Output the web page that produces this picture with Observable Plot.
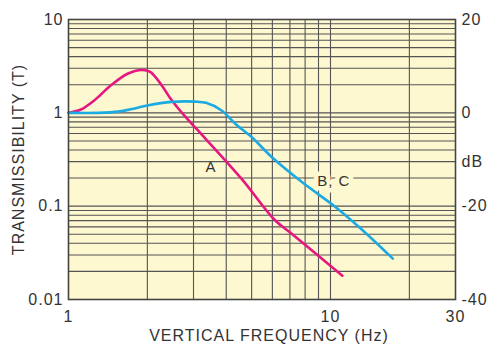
<!DOCTYPE html>
<html><head><meta charset="utf-8">
<script src="https://cdn.jsdelivr.net/npm/d3@7"></script>
<script src="https://cdn.jsdelivr.net/npm/@observablehq/plot@0.6"></script>
<style>
body{margin:0;background:#fff;}
#chart svg text{letter-spacing:1px;}
</style></head><body><div id="chart"></div>
<script>
// Curve A (magenta)
const freqA  = [1, 1.11, 1.25, 1.45, 1.68, 1.9, 2.05, 2.26, 2.47, 2.78, 3.1, 4.58, 6.1, 7.15, 11.1];
const transA = [1, 1.08, 1.35, 1.96, 2.62, 2.88, 2.75, 2.0, 1.38, 0.92, 0.66, 0.196, 0.072, 0.05, 0.018];
// Curve B, C (blue)
const freqBC  = [1, 1.3, 1.55, 1.75, 2.0, 2.47, 3.04, 3.35, 3.84, 4.32, 5.0, 5.98, 7.8, 10.5, 13.1, 17.3];
const transBC = [1, 1.0, 1.03, 1.1, 1.2, 1.31, 1.32, 1.28, 1.06, 0.77, 0.55, 0.334, 0.18, 0.097, 0.057, 0.0274];

const xTicks = [1, 10, 30];
const yTicks = [0.01, 0.1, 1, 10];
const yTickLabels = ["0.01", "0.1", "1", "10"];
const dbTickLabels = ["-40", "-20", "0", "20"];
const xGrid = [2, 3, 4, 5, 6, 7, 8, 9, 10, 20];
const yGrid = [0.02, 0.03, 0.04, 0.05, 0.06, 0.07, 0.08, 0.09, 0.1,
               0.2, 0.3, 0.4, 0.5, 0.6, 0.7, 0.8, 0.9, 1,
               2, 3, 4, 5, 6, 7, 8, 9];

const A = freqA.map((f, i) => ({f, t: transA[i]}));
const BC = freqBC.map((f, i) => ({f, t: transBC[i]}));

const cream = "#fdf8d0";
const ink = "#333";

const plot = Plot.plot({
  width: 490, height: 345,
  marginLeft: 68, marginRight: 35, marginTop: 19, marginBottom: 46,
  style: {fontFamily: "'Liberation Sans', Arial, sans-serif", fontSize: "16px", color: ink, background: "white"},
  x: {type: "log", domain: [1, 30]},
  y: {type: "log", domain: [0.01, 10]},
  marks: [
    Plot.frame({fill: cream, stroke: null}),
    Plot.ruleX(xGrid, {stroke: "#555", strokeWidth: 1.1}),
    Plot.ruleY(yGrid, {stroke: "#555", strokeWidth: 1.1}),
    Plot.line(A, {x: "f", y: "t", stroke: "#e6177f", strokeWidth: 2.6, curve: "catmull-rom"}),
    Plot.line(BC, {x: "f", y: "t", stroke: "#1caae2", strokeWidth: 2.6, curve: "catmull-rom"}),
    Plot.frame({stroke: "#444", strokeWidth: 1.6}),
    Plot.axisX({ticks: xTicks, tickSize: 0, tickPadding: 11, tickFormat: d => String(d), label: null, fontSize: 16}),
    Plot.axisY({ticks: yTicks, tickSize: 0, tickPadding: 5, tickFormat: d => yTickLabels[yTicks.indexOf(d)], label: null, fontSize: 16}),
    Plot.axisY({anchor: "right", ticks: yTicks, tickSize: 0, tickPadding: 6, tickFormat: d => dbTickLabels[yTicks.indexOf(d)], label: null, fontSize: 16}),
    Plot.text(["dB"], {frameAnchor: "right", y: () => 0.3, dx: 6, textAnchor: "start", fill: ink, fontSize: 16}),
    Plot.text(["A"], {x: () => 3.5, y: () => 0.26, fill: ink, fontSize: 15}),
    Plot.text(["B, C"], {x: () => 10.3, y: () => 0.185, fill: ink, fontSize: 15, stroke: cream, strokeWidth: 9, paintOrder: "stroke"}),
    Plot.text(["TRANSMISSIBILITY (T)"], {frameAnchor: "left", rotate: -90, dx: -49.5, textAnchor: "middle", lineAnchor: "middle", fill: ink, fontSize: 16, ariaLabel: "ylabel"}),
    Plot.text(["VERTICAL FREQUENCY (Hz)"], {frameAnchor: "bottom", dy: 36, dx: 7, textAnchor: "middle", lineAnchor: "middle", fill: ink, fontSize: 16, ariaLabel: "xlabel"})
  ]
});
document.getElementById("chart").appendChild(plot);
d3.select(plot).selectAll("g[aria-label='xlabel'] text").style("letter-spacing", "1.2px");
d3.select(plot).selectAll("g[aria-label='ylabel'] text").style("letter-spacing", "0.6px");
</script></body></html>
